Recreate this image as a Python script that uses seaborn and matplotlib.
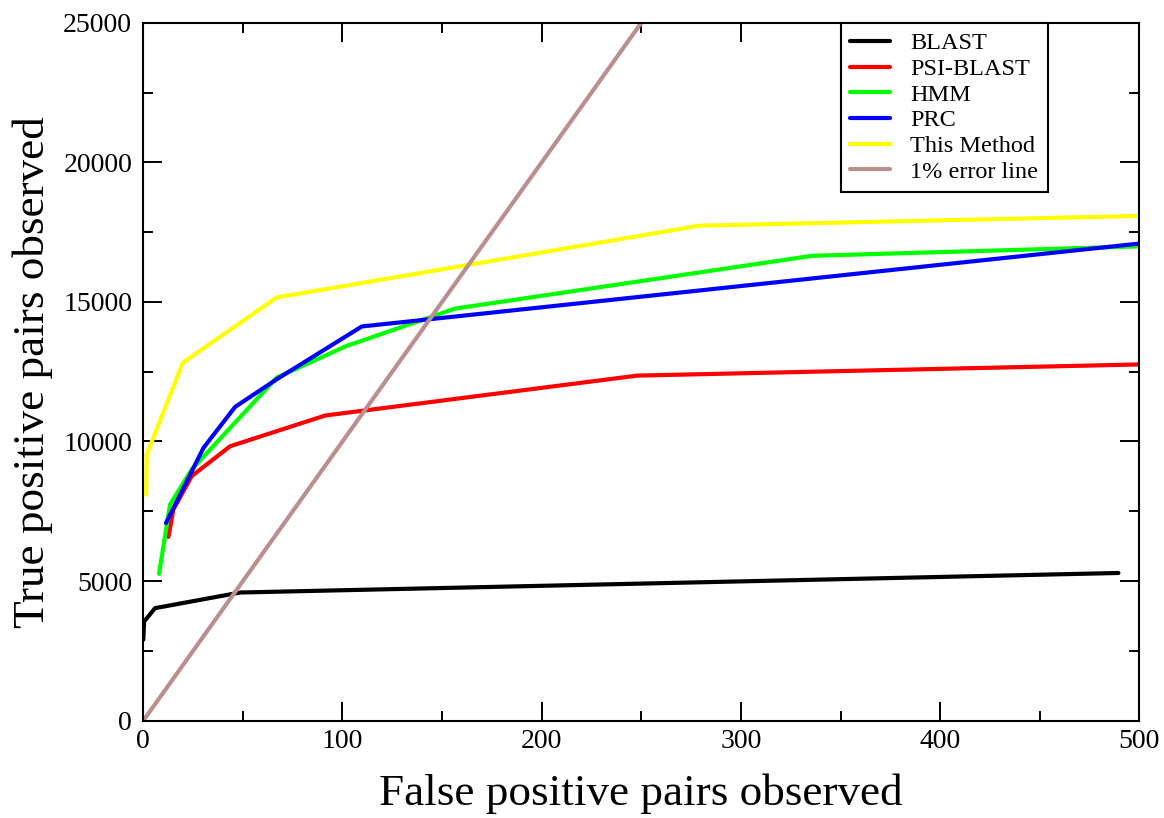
import numpy as np
import pandas as pd
import matplotlib
matplotlib.use("Agg")
import matplotlib.pyplot as plt
import seaborn as sns

# ---- data ----
blast_x = [0.0, 0.4, 5.9, 48.6, 489.5]
blast_y = [2900, 3550, 4030, 4590, 5290]

psi_x = [12.6, 15.1, 24.3, 43.6, 91.3, 248.0, 500.0]
psi_y = [6580, 7560, 8760, 9830, 10930, 12360, 12760]

hmm_x = [7.9, 13.4, 24.3, 67.0, 102.0, 156.5, 335.5, 500.0]
hmm_y = [5260, 7740, 9000, 12290, 13420, 14760, 16650, 16990]

prc_x = [11.4, 30.2, 46.1, 67.0, 109.7, 500.0]
prc_y = [7080, 9770, 11240, 12230, 14120, 17090]

this_x = [1.4, 1.7, 19.8, 67.0, 279.0, 500.0]
this_y = [8100, 9530, 12820, 15160, 17730, 18080]

err_x = [0.0, 250.0]
err_y = [0.0, 25000.0]

series_names = ["BLAST", "PSI-BLAST", "HMM", "PRC", "This Method", "1% error line"]
series_colors = ["#000000", "#ff0000", "#00ff00", "#0000ff", "#ffff00", "#bc8f8f"]

frames = []
for name, xs, ys in zip(series_names,
                        [blast_x, psi_x, hmm_x, prc_x, this_x, err_x],
                        [blast_y, psi_y, hmm_y, prc_y, this_y, err_y]):
    frames.append(pd.DataFrame({"x": xs, "y": ys, "series": name,
                                "order": np.arange(len(xs))}))
df = pd.concat(frames, ignore_index=True)

sns.set_style("ticks")
plt.rcParams["font.family"] = ["Liberation Serif", "DejaVu Serif"]
plt.rcParams["text.color"] = "black"
plt.rcParams["axes.labelcolor"] = "black"
plt.rcParams["xtick.color"] = "black"
plt.rcParams["ytick.color"] = "black"

fig = plt.figure(figsize=(11.64, 8.18), dpi=100)
ax = fig.add_axes([0.1231, 0.1190, 0.8557, 0.8532])

sns.lineplot(data=df, x="x", y="y", hue="series", hue_order=series_names,
             palette=dict(zip(series_names, series_colors)), sort=False,
             estimator=None, units="series", lw=3, ax=ax, legend=True)

ax.set_xlim(0, 500)
ax.set_ylim(0, 25000)
ax.set_xticks([0, 100, 200, 300, 400, 500])
ax.set_xticks([50, 150, 250, 350, 450], minor=True)
ax.set_yticks([0, 5000, 10000, 15000, 20000, 25000])
ax.set_yticks([2500, 7500, 12500, 17500, 22500], minor=True)

for s in ax.spines.values():
    s.set_visible(True)
    s.set_linewidth(1.5)
    s.set_color("black")

ax.tick_params(which="both", direction="in", top=True, right=True,
               colors="black", labelcolor="black", labelsize=20, width=1.4)
ax.tick_params(which="major", length=14)
ax.tick_params(which="minor", length=7)
ax.tick_params(axis="y", which="major", pad=8)
ax.tick_params(axis="x", which="major", pad=6)

ax.set_xlabel("False positive pairs observed", fontsize=32.5, labelpad=14,
              color="black")
ax.set_ylabel("True positive pairs observed", fontsize=32.5, labelpad=7,
              color="black")

leg = ax.legend(loc="upper right", bbox_to_anchor=(0.9084, 1.0),
                borderaxespad=0, fontsize=17.5, frameon=True, fancybox=False,
                edgecolor="black", framealpha=1, handlelength=1.65,
                handletextpad=0.82, labelspacing=0.15, borderpad=0.4)
leg.get_frame().set_linewidth(1.5)
for h in leg.get_lines():
    h.set_linewidth(3)
for t in leg.get_texts():
    t.set_color("black")

fig.savefig("out.png", dpi=100, facecolor="white")
